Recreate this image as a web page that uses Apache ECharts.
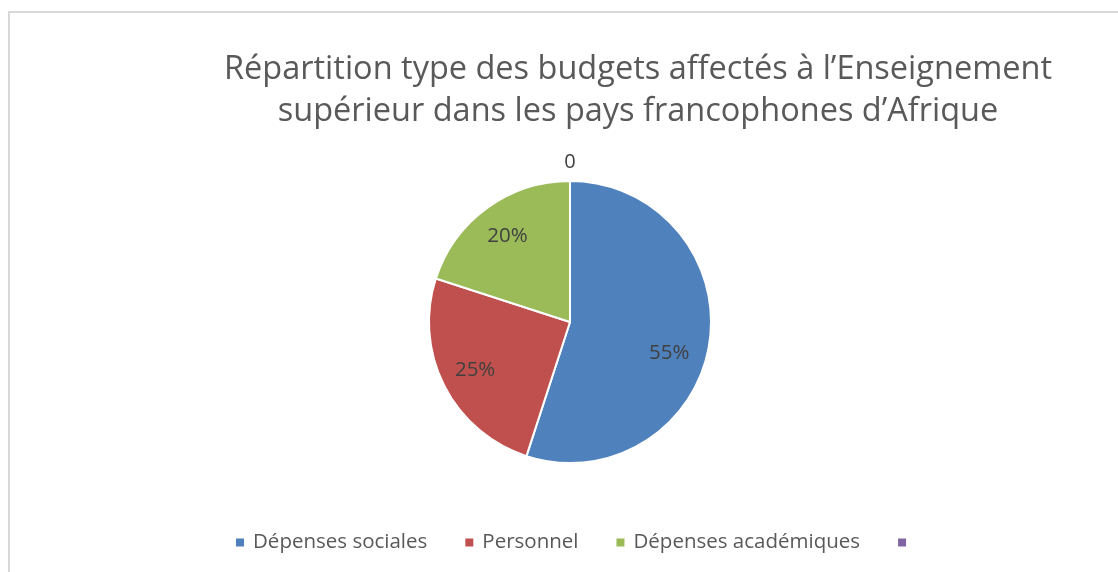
<!DOCTYPE html>
<html>
<head>
<meta charset="utf-8">
<script src="https://cdn.jsdelivr.net/npm/echarts@6/dist/echarts.min.js"></script>
<style>
  html, body { margin: 0; padding: 0; background: #fff; }
  #main { width: 1118px; height: 572px; }
</style>
</head>
<body>
<div id="main"></div>
<script>
// Répartition des budgets
var titre = 'Répartition type des budgets affectés à l’Enseignement\nsupérieur dans les pays francophones d’Afrique';
var categories = ['Dépenses sociales', 'Personnel', 'Dépenses académiques', ' '];
var valeurs = [55, 25, 20, 0];
var couleurs = ['#4F81BD', '#C0504D', '#9BBB59', '#8064A2'];

var donnees = [];
for (var i = 0; i < categories.length; i++) {
    donnees.push({ name: categories[i], value: valeurs[i] });
}

var myChart = echarts.init(document.getElementById('main'));
var option = {
    color: couleurs,
    textStyle: { fontFamily: 'Open Sans' },
    graphic: [{
        type: 'polyline',
        shape: { points: [[9, 572], [9, 12], [1118, 12]] },
        style: { stroke: '#d9d9d9', lineWidth: 2, fill: null },
        silent: true
    }],
    title: {
        text: titre,
        left: 633,
        top: 44,
        textAlign: 'center',
        textStyle: { fontSize: 32.5, fontWeight: 'normal', color: '#595959', lineHeight: 42, fontFamily: 'Open Sans' }
    },
    legend: {
        bottom: 14,
        left: 229,
        itemWidth: 10,
        itemHeight: 10,
        itemGap: 36,
        icon: 'rect',
        data: categories,
        textStyle: { fontSize: 20.5, color: '#595959', fontFamily: 'Open Sans', padding: [0, 0, 0, 3] }
    },
    series: [
        {
            type: 'pie',
            center: [570, 322],
            radius: [0, 141],
            startAngle: 90,
            clockwise: true,
            silent: true,
            itemStyle: { borderColor: '#fff', borderWidth: 2 },
            label: { show: false },
            labelLine: { show: false },
            labelLayout: function (p) {
                if (p.dataIndex === 3) {
                    return { align: 'center', verticalAlign: 'middle', dx: 5, dy: 1 };
                }
            },
            data: donnees.map(function (d) {
                if (d.value === 0) {
                    return {
                        name: d.name, value: d.value,
                        label: {
                            show: true, position: 'outside', formatter: '{c}',
                            fontSize: 20, color: '#404040', fontFamily: 'Open Sans'
                        },
                        labelLine: { show: false, length: 20, length2: 0 }
                    };
                }
                return d;
            })
        },
        {
            // couche transparente pour placer les étiquettes
            type: 'pie',
            center: [570, 322],
            radius: [66, 141],
            startAngle: 90,
            clockwise: true,
            silent: true,
            legendHoverLink: false,
            itemStyle: { color: 'rgba(0,0,0,0)', borderWidth: 0 },
            label: {
                show: true, position: 'inside', formatter: function (p) { return p.value === 0 ? '' : p.value + '%'; },
                fontSize: 20.5, color: '#404040', fontFamily: 'Open Sans'
            },
            labelLine: { show: false },
            labelLayout: function (p) {
                if (p.dataIndex === 0) {
                    return { dx: -6, dy: 14 };
                }
            },
            data: donnees.map(function (d) { return { name: d.name + '_', value: d.value }; })
        }
    ]
};
myChart.setOption(option);
</script>
</body>
</html>
